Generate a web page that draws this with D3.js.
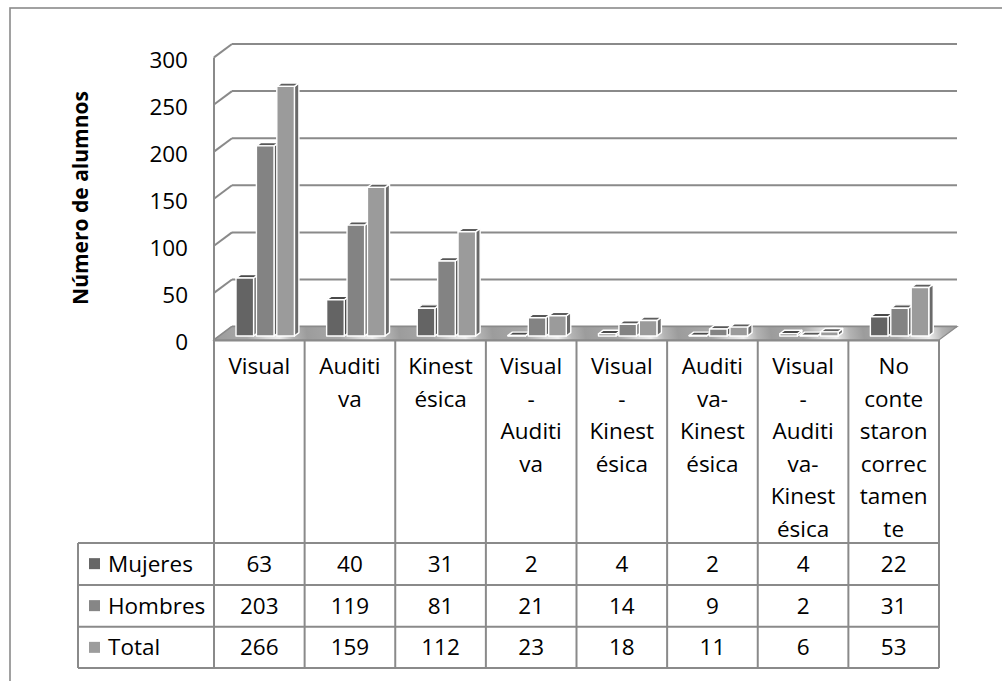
<!DOCTYPE html>
<html>
<head>
<meta charset="utf-8">
<script src="https://cdn.jsdelivr.net/npm/d3@7"></script>
<style>
  html, body { margin: 0; padding: 0; background: #fff; }
  svg { display: block; }
  text { font-family: "Open Sans", "Noto Sans", sans-serif; fill: #000; }
</style>
</head>
<body>
<svg id="chart" width="1002" height="681"></svg>
<script>
// ---- Data ----
const categories = [
  "Visual", "Auditiva", "Kinestésica", "Visual-Auditiva", "Visual-Kinestésica",
  "Auditiva-Kinestésica", "Visual-Auditiva-Kinestésica", "No contestaron correctamente"
];
const categoryLabelLines = [
  ["Visual"],
  ["Auditi", "va"],
  ["Kinest", "ésica"],
  ["Visual", "-", "Auditi", "va"],
  ["Visual", "-", "Kinest", "ésica"],
  ["Auditi", "va-", "Kinest", "ésica"],
  ["Visual", "-", "Auditi", "va-", "Kinest", "ésica"],
  ["No", "conte", "staron", "correc", "tamen", "te"]
];
const seriesNames = ["Mujeres", "Hombres", "Total"];
const mujeres = [63, 40, 31, 2, 4, 2, 4, 22];
const hombres = [203, 119, 81, 21, 14, 9, 2, 31];
const total   = [266, 159, 112, 23, 18, 11, 6, 53];
const yTicks = [0, 50, 100, 150, 200, 250, 300];
const yTitle = "Número de alumnos";

const seriesValues = [mujeres, hombres, total];
const seriesColors = {
  Mujeres: { front: "#646464", top: "#4a4a4a", side: "#4f4f4f", key: "#666666" },
  Hombres: { front: "#838383", top: "#575757", side: "#5e5e5e", key: "#868686" },
  Total:   { front: "#9b9b9b", top: "#5e5e5e", side: "#6a6a6a", key: "#9c9c9c" }
};

// ---- Layout ----
const svg = d3.select("#chart");
const gridColor = "#8a8a8a";
const plotLeft = 215, plotRight = 940;
const depthX = 18, depthY = -13.4;   // wall depth offset
const barDX = 4.5, barDY = -3.4;     // bar depth offset
const fs = 22.5;

const x = d3.scaleBand().domain(categories).range([plotLeft, plotRight]).paddingInner(0).paddingOuter(0);
const xs = d3.scaleBand().domain(seriesNames).range([21, 79.4]).paddingInner(0.137);
const yFront = d3.scaleLinear().domain([0, 300]).range([340, 57.4]);
const yBar = d3.scaleLinear().domain([0, 300]).range([337.5, 54.3]);
const barBase = 336;

// outer border (extends off canvas right/bottom)
svg.append("rect").attr("x", 10).attr("y", 8).attr("width", 1010).attr("height", 700)
  .attr("fill", "none").attr("stroke", gridColor).attr("stroke-width", 1.6);

// gridlines: back wall + left side wall diagonals
const gGrid = svg.append("g");
yTicks.forEach(t => {
  const yf = yFront(t), yb = yf + depthY;
  gGrid.append("line").attr("x1", plotLeft - 1).attr("y1", yf).attr("x2", plotLeft - 1 + depthX).attr("y2", yb)
    .attr("stroke", gridColor).attr("stroke-width", 2);
  gGrid.append("line").attr("x1", plotLeft - 1 + depthX).attr("y1", yb).attr("x2", plotRight + depthX - 1).attr("y2", yb)
    .attr("stroke", gridColor).attr("stroke-width", 2);
});
gGrid.append("line").attr("x1", plotLeft - 1).attr("y1", yFront(300)).attr("x2", plotLeft - 1).attr("y2", yFront(0))
  .attr("stroke", gridColor).attr("stroke-width", 2);

// floor
const defs = svg.append("defs");
const grad = defs.append("linearGradient").attr("id", "floorGrad")
  .attr("gradientUnits", "userSpaceOnUse").attr("spreadMethod", "repeat")
  .attr("x1", plotLeft).attr("y1", 340).attr("x2", plotLeft + x.bandwidth()).attr("y2", 326);
[[0, "#9c9c9c"], [0.35, "#a8a8a8"], [0.55, "#d8d8d8"], [0.7, "#eeeeee"], [0.85, "#b4b4b4"], [1, "#9c9c9c"]]
  .forEach(([o, c]) => grad.append("stop").attr("offset", o).attr("stop-color", c));
const y0f = yFront(0);
svg.append("path")
  .attr("d", `M${plotLeft - 1},${y0f} L${plotLeft - 1 + depthX},${y0f + depthY} L${plotRight + depthX - 1},${y0f + depthY} L${plotRight - 1},${y0f} Z`)
  .attr("fill", "url(#floorGrad)").attr("stroke", gridColor).attr("stroke-width", 1.2);

// bars
const gBars = svg.append("g");
categories.forEach((cat, ci) => {
  seriesNames.forEach((s, si) => {
    const v = seriesValues[si][ci];
    const c = seriesColors[s];
    const x0 = x(cat) + xs(s), w = xs.bandwidth();
    const yt = Math.min(yBar(v), barBase - 0.5);
    const g = gBars.append("g").attr("stroke", "#ffffff").attr("stroke-width", 1.4).attr("stroke-linejoin", "round");
    g.append("path").attr("d", `M${x0 + w},${yt} L${x0 + w + barDX},${yt + barDY} L${x0 + w + barDX},${barBase + barDY} L${x0 + w},${barBase} Z`)
      .attr("fill", c.side);
    g.append("path").attr("d", `M${x0},${yt} L${x0 + barDX},${yt + barDY} L${x0 + w + barDX},${yt + barDY} L${x0 + w},${yt} Z`)
      .attr("fill", c.top);
    g.append("rect").attr("x", x0).attr("y", yt).attr("width", w).attr("height", barBase - yt)
      .attr("fill", c.front);
  });
});

// y tick labels
svg.append("g").selectAll("text").data(yTicks).join("text")
  .attr("x", 188).attr("y", d => yFront(d) + 2).attr("dy", "0.36em")
  .attr("text-anchor", "end").attr("font-size", fs).text(d => d);

// y title
svg.append("text").attr("transform", "translate(88,198) rotate(-90)")
  .attr("text-anchor", "middle").attr("font-size", 21).attr("font-weight", "bold").text(yTitle);

// ---- data table ----
const tableLeft = 78;
const rowTops = [543, 585, 626.7];
const rowH = 41.3;
const tableBottom = rowTops[2] + rowH;
const gT = svg.append("g").attr("stroke", gridColor).attr("stroke-width", 2);
gT.append("line").attr("x1", plotLeft - 1).attr("y1", 340.5).attr("x2", plotRight - 1).attr("y2", 340.5);
rowTops.concat([tableBottom]).forEach(yy => {
  gT.append("line").attr("x1", tableLeft).attr("y1", yy).attr("x2", plotRight - 1).attr("y2", yy);
});
gT.append("line").attr("x1", tableLeft).attr("y1", rowTops[0]).attr("x2", tableLeft).attr("y2", tableBottom);
categories.forEach(cat => {
  gT.append("line").attr("x1", x(cat) - 1).attr("y1", 340).attr("x2", x(cat) - 1).attr("y2", tableBottom);
});
gT.append("line").attr("x1", plotRight - 1).attr("y1", 340).attr("x2", plotRight - 1).attr("y2", tableBottom);

// category labels
categories.forEach((cat, ci) => {
  const lines = categoryLabelLines[ci];
  const t = svg.append("text").attr("text-anchor", "middle").attr("font-size", fs);
  lines.forEach((ln, li) => {
    t.append("tspan").attr("x", x(cat) + x.bandwidth() / 2 - 1).attr("y", 374 + li * 32.5).text(ln);
  });
});

// row headers with legend keys + values
seriesNames.forEach((s, si) => {
  const cy = rowTops[si] + rowH / 2;
  svg.append("rect").attr("x", 89).attr("y", cy - 5.5).attr("width", 11).attr("height", 11)
    .attr("fill", seriesColors[s].key);
  svg.append("text").attr("x", 108).attr("y", cy).attr("dy", "0.36em").attr("font-size", fs).text(s);
  categories.forEach((cat, ci) => {
    svg.append("text").attr("x", x(cat) + x.bandwidth() / 2 - 1).attr("y", cy).attr("dy", "0.36em")
      .attr("text-anchor", "middle").attr("font-size", fs).text(seriesValues[si][ci]);
  });
});
</script>
</body>
</html>
